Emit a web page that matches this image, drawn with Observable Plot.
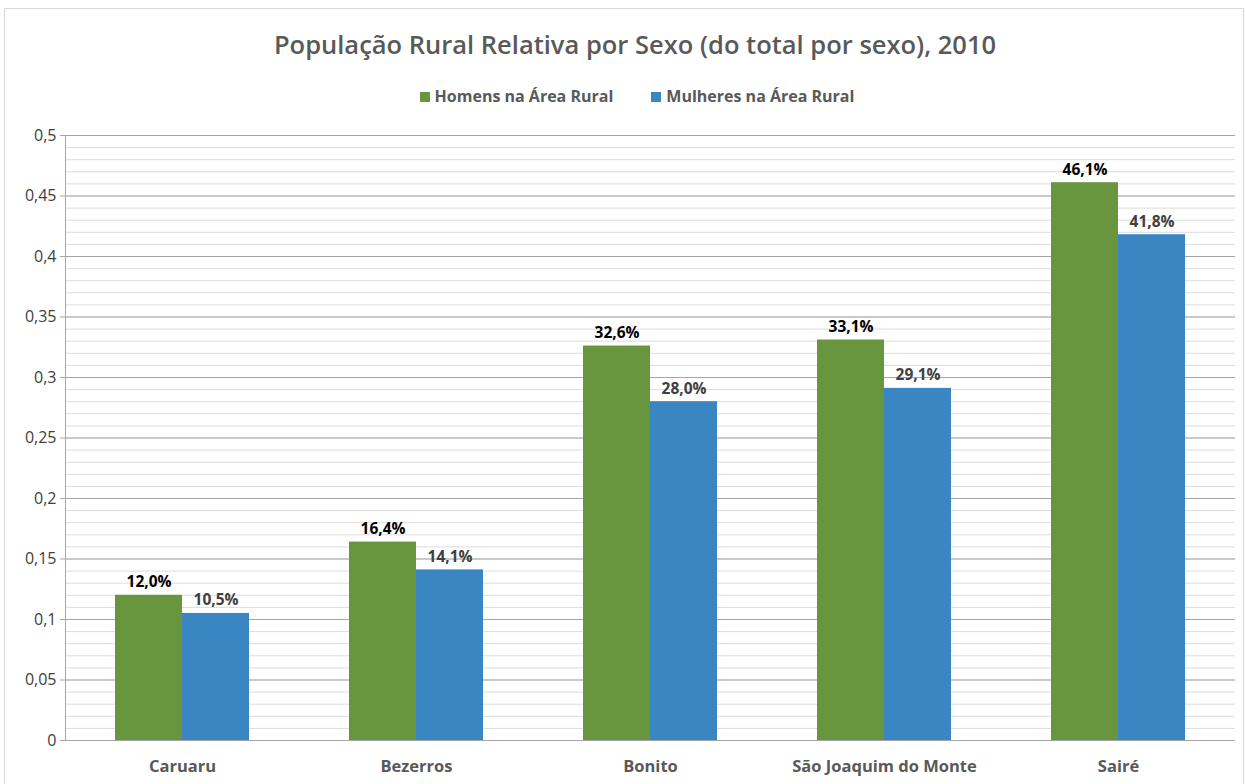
<!DOCTYPE html>
<html>
<head>
<meta charset="utf-8">
<script src="https://cdn.jsdelivr.net/npm/d3@7"></script>
<script src="https://cdn.jsdelivr.net/npm/@observablehq/plot@0.6"></script>
<style>
  html, body { margin: 0; padding: 0; background: #fff; width: 1246px; height: 784px; overflow: hidden; font-family: "Open Sans", sans-serif; }
  #frame { position: absolute; left: 4px; top: 8px; width: 1240px; height: 800px; border: 1px solid #d9d9d9; box-sizing: border-box; }
  #title { position: absolute; left: 12px; width: 1246px; top: 26px; text-align: center; font-size: 25.5px; font-weight: 600; color: #595959; line-height: 36px; }
  #legend { position: absolute; left: 14px; width: 1246px; top: 85px; text-align: center; font-size: 16px; font-weight: 700; color: #595959; line-height: 22px; }
  #legend span.item { display: inline-block; margin: 0 19px; }
  #legend span.sw { display: inline-block; width: 10px; height: 10px; margin-right: 5px; vertical-align: 0px; }
  #chart { position: absolute; left: 0; top: 115px; }
</style>
</head>
<body>
<div id="frame"></div>
<div id="title">População Rural Relativa por Sexo (do total por sexo), 2010</div>
<div id="legend"></div>
<div id="chart"></div>
<script>
const categories = ["Caruaru", "Bezerros", "Bonito", "São Joaquim do Monte", "Sairé"];
const series = ["Homens na Área Rural", "Mulheres na Área Rural"];
const men = [0.120, 0.164, 0.326, 0.331, 0.461];
const women = [0.105, 0.141, 0.280, 0.291, 0.418];
const menLabels = ["12,0%", "16,4%", "32,6%", "33,1%", "46,1%"];
const womenLabels = ["10,5%", "14,1%", "28,0%", "29,1%", "41,8%"];
const yTicks = [0, 0.05, 0.1, 0.15, 0.2, 0.25, 0.3, 0.35, 0.4, 0.45, 0.5];
const yTickLabels = ["0", "0,05", "0,1", "0,15", "0,2", "0,25", "0,3", "0,35", "0,4", "0,45", "0,5"];
const minorTicks = d3.range(0, 51).map(i => i / 100);
const colors = ["#67963f", "#3a86c3"];

const menData = categories.map((c, i) => ({cat: c, value: men[i], label: menLabels[i]}));
const womenData = categories.map((c, i) => ({cat: c, value: women[i], label: womenLabels[i]}));

const legend = document.getElementById("legend");
series.forEach((s, i) => {
  const item = document.createElement("span");
  item.className = "item";
  item.innerHTML = `<span class="sw" style="background:${colors[i]}"></span>${s}`;
  legend.appendChild(item);
});

const plot = Plot.plot({
  width: 1246,
  height: 669,
  marginLeft: 65,
  marginRight: 11,
  marginTop: 20,
  marginBottom: 44,
  style: {fontFamily: "Open Sans, sans-serif", background: "transparent"},
  x: {type: "band", domain: categories, paddingInner: 0.4274, paddingOuter: 0.2137, axis: null},
  y: {domain: [0, 0.5], axis: null},
  marks: [
    Plot.ruleY(minorTicks, {stroke: "#dcdcdc", strokeWidth: 1}),
    Plot.ruleY(yTicks, {stroke: "#a6a6a6", strokeWidth: 1}),
    Plot.barY(menData, {x: "cat", y: "value", fill: colors[0], insetRight: 67}),
    Plot.barY(womenData, {x: "cat", y: "value", fill: colors[1], insetLeft: 67}),
    Plot.text(menData, {x: "cat", y: "value", text: "label", dx: -33.5, dy: -8, lineAnchor: "bottom", fill: "#000", fontWeight: "bold", fontSize: 15.5}),
    Plot.text(womenData, {x: "cat", y: "value", text: "label", dx: 33.5, dy: -8, lineAnchor: "bottom", fill: "#404040", fontWeight: "bold", fontSize: 15.5}),
    Plot.frame({anchor: "left", stroke: "#a6a6a6"}),
    Plot.ruleY([0], {stroke: "#a6a6a6"}),
    Plot.axisY({ticks: yTicks, tickFormat: (d) => yTickLabels[yTicks.indexOf(d)], tickSize: 5, tickPadding: 4, stroke: "#a6a6a6", fill: "#404040", fontSize: 16, label: null}),
    Plot.axisX({tickSize: 0, tickPadding: 20, fill: "#595959", fontWeight: "bold", fontSize: 16.5, label: null})
  ]
});
document.getElementById("chart").appendChild(plot);
</script>
</body>
</html>
